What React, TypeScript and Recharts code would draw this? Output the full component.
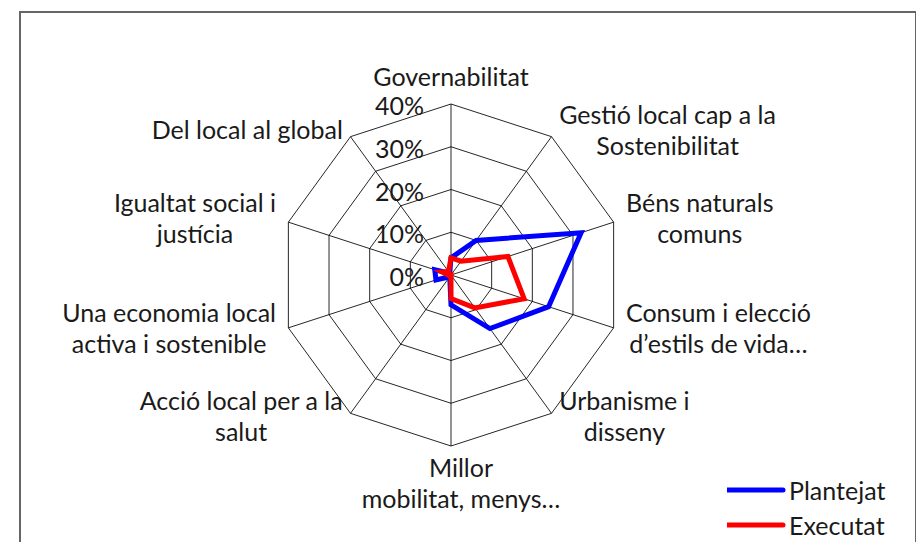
import React from 'react';
import { RadarChart, Radar, PolarGrid, PolarAngleAxis, PolarRadiusAxis, Legend } from 'recharts';

const categories = [
  'Governabilitat',
  'Gestió local cap a la\nSostenibilitat',
  'Béns naturals\ncomuns',
  'Consum i elecció\nd’estils de vida…',
  'Urbanisme i\ndisseny',
  'Millor\nmobilitat, menys…',
  'Acció local per a la\nsalut',
  'Una economia local\nactiva i sostenible',
  'Igualtat social i\njustícia',
  'Del local al global',
];
const seriesNames = ['Plantejat', 'Executat'];
const plantejat = [4, 10, 32, 24, 15.5, 7, 0.5, 3.7, 4, 0.5];
const executat = [4, 4, 14, 18, 9.5, 5.5, 0, 0.5, 2.2, 1];
const radiusTicks = [0, 10, 20, 30, 40];

const data = categories.map((category, i) => ({
  category,
  Plantejat: plantejat[i],
  Executat: executat[i],
}));

const FONT_FAMILY = 'Lato';
const FONT_SIZE = 25;
const LINE_H = 31;
const TEXT_COLOR = '#1a1a1a';

let measureCtx: CanvasRenderingContext2D | null = null;
function textWidth(s: string) {
  if (!measureCtx) measureCtx = document.createElement('canvas').getContext('2d');
  if (!measureCtx) return s.length * FONT_SIZE * 0.5;
  measureCtx.font = `${FONT_SIZE}px ${FONT_FAMILY}`;
  return measureCtx.measureText(s).width;
}

// labels sit outside each vertex; multi-line blocks are centred line by line
// (tick x/y already lie 8px beyond the outer ring)
function AngleTick(props: any) {
  const { x, y, payload } = props;
  const lines = String(payload.value).split('\n');
  const a = (payload.coordinate * Math.PI) / 180;
  const c = Math.cos(a);
  const s = Math.sin(a);
  const blockH = lines.length * LINE_H;
  let tx: number;
  let top: number;
  if (Math.abs(c) < 0.01) {
    tx = s > 0 ? x : x + 10;
    top = s > 0 ? y - 5 - blockH : y - 3;
  } else {
    const w = Math.max(...lines.map(textWidth));
    const edge = x + 5 * c;
    tx = c > 0 ? edge + w / 2 : edge - w / 2;
    top = y - 2.5 + 2 * s - blockH / 2;
  }
  return (
    <text textAnchor="middle" fontFamily={FONT_FAMILY} fontSize={FONT_SIZE} fill={TEXT_COLOR}>
      {lines.map((l, i) => (
        <tspan key={i} x={tx} y={top + LINE_H * i + LINE_H / 2} dominantBaseline="central">
          {l}
        </tspan>
      ))}
    </text>
  );
}

function RadiusTick(props: any) {
  const { x, y, payload } = props;
  return (
    <text
      x={x - 27}
      y={y + 1}
      textAnchor="end"
      dominantBaseline="central"
      fontFamily={FONT_FAMILY}
      fontSize={FONT_SIZE}
      fill={TEXT_COLOR}
    >
      {payload.value}%
    </text>
  );
}

function LegendContent(props: any) {
  const items = [...(props.payload || [])].sort(
    (p: any, q: any) => seriesNames.indexOf(p.value) - seriesNames.indexOf(q.value)
  );
  return (
    <div style={{ fontFamily: FONT_FAMILY, fontSize: FONT_SIZE, color: TEXT_COLOR }}>
      {items.map((entry: any) => (
        <div key={entry.value} style={{ display: 'flex', alignItems: 'center', height: 35 }}>
          <svg width={62} height={10}>
            <line x1={0} y1={5} x2={56} y2={5} stroke={entry.color} strokeWidth={5} strokeLinecap="round" />
          </svg>
          <span>{entry.value}</span>
        </div>
      ))}
    </div>
  );
}

export default function App() {
  return (
    <div style={{ position: 'relative', width: 908, height: 534, overflow: 'hidden' }}>
      <div
        style={{
          position: 'absolute',
          left: 11,
          top: 3,
          width: 898,
          height: 600,
          boxSizing: 'border-box',
          border: '2px solid #666',
        }}
      />
      <div style={{ position: 'absolute', left: 0, top: 0 }}>
        <RadarChart
          width={908}
          height={534}
          data={data}
          cx={443}
          cy={267}
          outerRadius={171}
          margin={{ top: 0, right: 0, bottom: 0, left: 0 }}
        >
          <PolarGrid gridType="polygon" stroke="#000" strokeWidth={1} strokeOpacity={0.85} />
          <PolarAngleAxis dataKey="category" tick={AngleTick} tickLine={false} axisLine={false} />
          <PolarRadiusAxis
            angle={90}
            domain={[radiusTicks[0], radiusTicks[radiusTicks.length - 1]]}
            tickCount={radiusTicks.length}
            tick={RadiusTick}
            tickLine={false}
            axisLine={false}
          />
          <Radar
            name={seriesNames[0]}
            dataKey="Plantejat"
            stroke="#0000ff"
            strokeWidth={5}
            fill="none"
            fillOpacity={0}
            dot={false}
            isAnimationActive={false}
          />
          <Radar
            name={seriesNames[1]}
            dataKey="Executat"
            stroke="#ff0000"
            strokeWidth={5}
            fill="none"
            fillOpacity={0}
            dot={false}
            isAnimationActive={false}
          />
          <Legend
            layout="vertical"
            align="right"
            verticalAlign="bottom"
            content={LegendContent}
            wrapperStyle={{ left: 719, top: 464, width: 180, bottom: 'auto', right: 'auto' }}
          />
        </RadarChart>
      </div>
    </div>
  );
}
